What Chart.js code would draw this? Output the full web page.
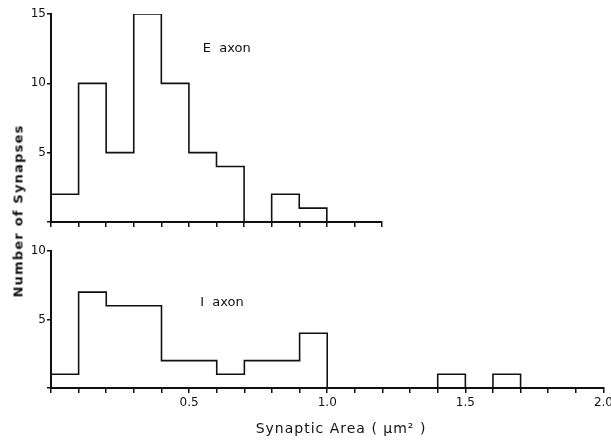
<!DOCTYPE html>
<html>
<head>
<meta charset="utf-8">
<script src="https://cdn.jsdelivr.net/npm/chart.js@4.4.1/dist/chart.umd.min.js"></script>
<style>
  html, body { margin: 0; padding: 0; background: #fff; }
  #wrap { position: relative; width: 611px; height: 442px; overflow: hidden; }
  #topBox { position: absolute; left: 0; top: 0; width: 400px; height: 236px; }
  #botBox { position: absolute; left: 0; top: 236px; width: 616px; height: 206px; }
  #yTitle {
    position: absolute; left: 18px; top: 211px;
    transform: translate(-50%, -50%) rotate(-90deg);
    font: bold 13px "DejaVu Sans", sans-serif; letter-spacing: 1.2px;
    white-space: nowrap; color: #111;
  }
</style>
</head>
<body>
<div id="wrap">
  <div id="topBox"><canvas id="eChart"></canvas></div>
  <div id="botBox"><canvas id="iChart"></canvas></div>
  <div id="yTitle">Number of Synapses</div>
</div>
<script>
// bin width 0.1 um^2, bins start at 0
const binWidth = 0.1;
const eCounts = [2, 10, 5, 15, 10, 5, 4, 0, 2, 1];
const iCounts = [1, 7, 6, 6, 2, 2, 1, 2, 2, 4, 0, 0, 0, 0, 1, 0, 1];
const eLabel = 'E  axon';
const iLabel = 'I  axon';
const xLabels = ['0.5', '1.0', '1.5', '2.0'];
const xTitle = 'Synaptic Area ( μm² )';

function stepPoints(counts) {
    const pts = counts.map(function(c, i) { return { x: +(i * binWidth).toFixed(2), y: c }; });
    pts.push({ x: +(counts.length * binWidth).toFixed(2), y: 0 });
    return pts;
}

const ink = '#111';
const font = { family: '"DejaVu Sans", sans-serif', size: 12 };

// writes the panel name (and the x title on the lower panel)
const panelText = {
    id: 'panelText',
    afterDatasetsDraw(chart, args, opts) {
        const ctx = chart.ctx;
        const xs = chart.scales.x;
        const x = xs.getPixelForValue(opts.x);
        const y = chart.scales.y.getPixelForValue(opts.y);
        ctx.save();
        ctx.fillStyle = ink;
        ctx.font = '13px "DejaVu Sans", sans-serif';
        ctx.textBaseline = 'middle';
        ctx.fillText(opts.text, x, y);
        if (opts.title) {
            ctx.font = '14px "DejaVu Sans", sans-serif';
            ctx.letterSpacing = '1px';
            ctx.textAlign = 'center';
            ctx.fillText(opts.title, xs.getPixelForValue(1.05), xs.bottom - 13);
        }
        ctx.restore();
    }
};

function makeChart(id, counts, xMax, yMax, label, labelPos, bottom) {
    return new Chart(document.getElementById(id), {
        type: 'line',
        data: {
            datasets: [{
                data: stepPoints(counts),
                stepped: true,
                borderColor: ink,
                borderWidth: 1.6,
                pointRadius: 0,
                fill: false
            }]
        },
        options: {
            responsive: true,
            maintainAspectRatio: false,
            animation: false,
            layout: { padding: bottom ? { top: 15, right: 9, left: 0, bottom: 0 } : { top: 14, right: 18, left: 0, bottom: 0 } },
            plugins: {
                legend: { display: false },
                tooltip: { enabled: false },
                panelText: { text: label, x: labelPos[0], y: labelPos[1], title: bottom ? xTitle : null }
            },
            scales: {
                x: {
                    type: 'linear', min: 0, max: xMax,
                    border: { display: true, color: ink, width: 2 },
                    grid: { drawOnChartArea: false, drawTicks: true, tickLength: 5, color: ink, lineWidth: 1.5 },
                    ticks: {
                        stepSize: binWidth, autoSkip: false, maxRotation: 0, color: ink, font: font, padding: 3,
                        callback: function(v) {
                            if (!bottom) return '';
                            const k = Math.round(v * 10);
                            return (k > 0 && k % 5 === 0) ? xLabels[k / 5 - 1] : '';
                        }
                    },
                    afterFit: function(s) { s.height = bottom ? 54 : 14; }
                },
                y: {
                    min: 0, max: yMax,
                    border: { display: true, color: ink, width: 2 },
                    grid: { drawOnChartArea: false, drawTicks: true, tickLength: 4, color: ink, lineWidth: 1.5 },
                    ticks: {
                        stepSize: 5, color: ink, font: font, padding: 1,
                        callback: function(v) { return v === 0 ? '' : String(v); }
                    },
                    afterFit: function(s) { s.width = 51; }
                }
            }
        },
        plugins: [panelText]
    });
}

document.addEventListener('DOMContentLoaded', function() {
    try {
        makeChart('eChart', eCounts, 1.2, 15, eLabel, [0.55, 12.5], false);
        makeChart('iChart', iCounts, 2.0, 10, iLabel, [0.54, 6.2], true);
    } catch (e) { console.error('chart init', e); }
});
</script>
</body>
</html>
